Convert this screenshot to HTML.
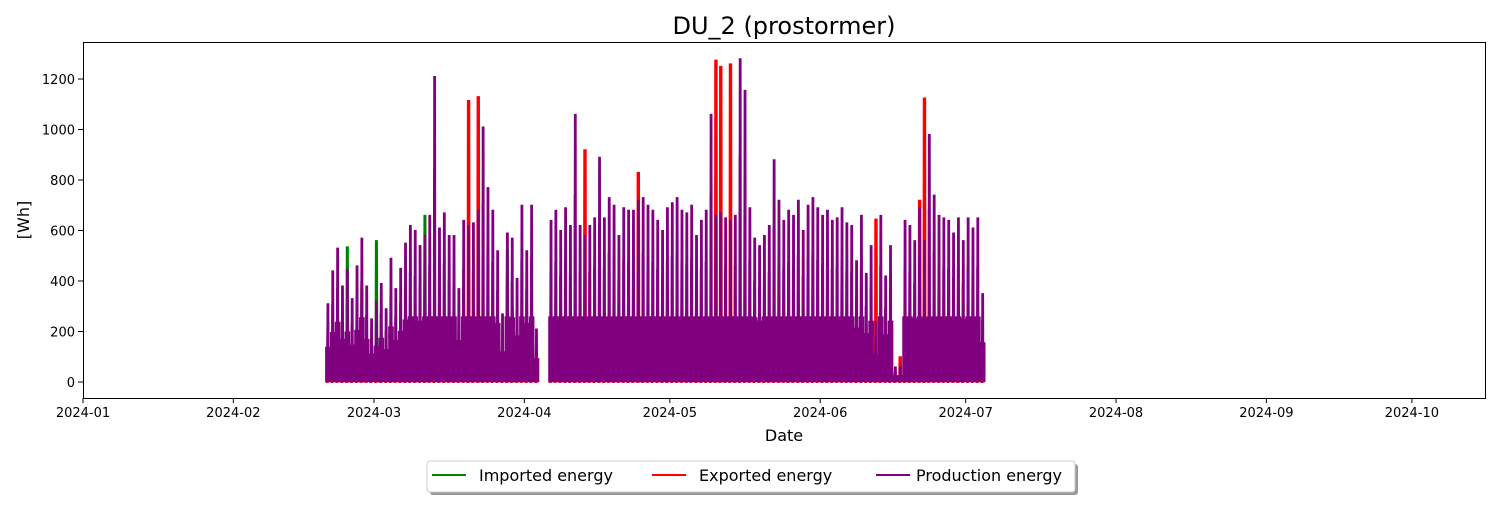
<!DOCTYPE html>
<html><head><meta charset="utf-8"><style>
body{margin:0;background:#fff;font-family:"Liberation Sans","DejaVu Sans",sans-serif}
svg text{font-family:"DejaVu Sans","Liberation Sans",sans-serif}
</style></head><body>
<svg id="chart" width="1500" height="500" xmlns="http://www.w3.org/2000/svg">
<rect width="1500" height="500" fill="#fff"/>
<text x="784" y="34" font-size="24" text-anchor="middle">DU_2 (prostormer)</text>
<g id="plot"></g>
<rect x="83.5" y="42.5" width="1402" height="356" fill="none" stroke="#000" stroke-width="1"/>
<g id="axes"></g>
<text x="784" y="441" font-size="16" text-anchor="middle">Date</text>
<text transform="translate(29,220) rotate(-90)" font-size="16" text-anchor="middle">[Wh]</text>
<g>
<rect x="430" y="464" width="648" height="31" rx="3" fill="#999"/>
<rect x="427" y="461" width="648" height="31" rx="3" fill="#fff" stroke="#ccc"/>
<g><line x1="432" y1="475" x2="466" y2="475" stroke="green" stroke-width="2"/><text x="479" y="481" font-size="16">Imported energy</text></g>
<g><line x1="652" y1="475" x2="686" y2="475" stroke="red" stroke-width="2"/><text x="699" y="481" font-size="16">Exported energy</text></g>
<g><line x1="876" y1="475" x2="910" y2="475" stroke="purple" stroke-width="2"/><text x="916" y="481" font-size="16">Production energy</text></g>
</g>
</svg>
<script>
const startDate = "2024-02-20";
const prodPeaks = [310,440,530,380,445,330,460,570,380,250,
 320,390,290,490,370,450,550,620,600,540,580,660,1210,610,670,580,580,370,640,620,630,680,1010,770,680,520,270,590,570,410,700,
 520,700,210,null,null,
 640,680,600,690,620,1060,620,580,620,650,890,650,730,700,580,690,680,680,720,730,700,680,640,600,690,
 710,730,680,670,700,580,640,680,1060,660,670,650,640,660,1280,1155,690,570,540,580,620,880,720,640,680,660,720,600,700,730,690,
 660,680,640,650,690,630,620,480,660,430,540,240,660,420,540,60,60,640,620,560,690,560,980,740,660,650,640,590,650,560,
 650,610,650,350];
const exportDates = ["2024-03-20","2024-03-22","2024-04-13","2024-04-24","2024-05-10","2024-05-11","2024-05-13","2024-06-12","2024-06-17","2024-06-21","2024-06-22"];
const exportValues = [1115,1130,920,830,1275,1250,1260,645,100,720,1125];
const importDates = ["2024-02-24","2024-02-27","2024-03-01","2024-03-11","2024-03-28","2024-03-29"];
const importValues = [535,370,560,660,525,300];
const xTickLabels = ["2024-01","2024-02","2024-03","2024-04","2024-05","2024-06","2024-07","2024-08","2024-09","2024-10"];
const yTicks = [0,200,400,600,800,1000,1200];

const NS="http://www.w3.org/2000/svg";
const t0=Date.UTC(2024,0,1), DAY=86400000;
function dayOf(s){const p=s.split("-").map(Number);return (Date.UTC(p[0],p[1]-1,p[2]||1)-t0)/DAY;}
function xS(d){return 83+d*4.85;}
function yS(v){return 382-v*0.2525;}
function mk(tag,attrs,parent){const e=document.createElementNS(NS,tag);for(const k in attrs)e.setAttribute(k,attrs[k]);parent.appendChild(e);return e;}
const plot=document.getElementById("plot"), axes=document.getElementById("axes");
const d0=dayOf(startDate);

const gI=mk("g",{},plot);


importDates.forEach((d,i)=>{const x=xS(dayOf(d)+0.5);
 const p=mk("path",{d:`M${x-1.5},${yS(0)}L${x-1},${yS(importValues[i])}L${x+1},${yS(importValues[i])}L${x+1.5},${yS(0)}Z`,fill:"green",stroke:"green","stroke-width":1},gI);
 
 
});
const gE=mk("g",{},plot);


exportDates.forEach((d,i)=>{const x=xS(dayOf(d)+0.5);
 const p=mk("path",{d:`M${x-1.5},${yS(0)}L${x-1.2},${yS(exportValues[i])}L${x+1.2},${yS(exportValues[i])}L${x+1.5},${yS(0)}Z`,fill:"red",stroke:"red","stroke-width":1},gE);
 
 
});
const gP=mk("g",{},plot);


prodPeaks.forEach((v,i)=>{ if(v==null) return;
 const xa=xS(d0+i), xb=xS(d0+i+1), xm=xS(d0+i+0.5);
 const base=Math.min(v*0.45,260);
 const r=mk("rect",{x:xa-0.4,y:yS(base),width:xb-xa+0.8,height:yS(0)-yS(base),fill:"purple"},gP);
 
 
 const s=mk("path",{d:`M${xa+0.5},${yS(0)}L${xa+0.9},${yS(v*0.7)}L${xa+1.6},${yS(v*0.7)}L${xa+2},${yS(0)}Z`,fill:"purple"},gP);
 
 
 const p=mk("path",{d:`M${xm-1.2},${yS(0)}L${xm-0.9},${yS(v)}L${xm+0.9},${yS(v)}L${xm+1.2},${yS(0)}Z`,fill:"purple",stroke:"purple","stroke-width":1},gP);
 
 
});
prodPeaks.forEach((v,i)=>{ if(v==null) return;
 const xa=xS(d0+i);
 const r=mk("rect",{x:xa,y:yS(12),width:3,height:yS(0)-yS(12)+1,fill:"red",opacity:0.85},gE);
 
 
});
xTickLabels.forEach(l=>{const x=xS(dayOf(l));
 mk("line",{x1:x,y1:398,x2:x,y2:403,stroke:"#000"},axes);
 const t=mk("text",{x:x,y:417,"font-size":13,"text-anchor":"middle"},axes);t.textContent=l;
 
 
});
yTicks.forEach(v=>{const y=yS(v);
 mk("line",{x1:78,y1:y,x2:83,y2:y,stroke:"#000"},axes);
 const t=mk("text",{x:75,y:y+5,"font-size":13,"text-anchor":"end"},axes);t.textContent=v;
 
 
});
</script>
</body></html>
